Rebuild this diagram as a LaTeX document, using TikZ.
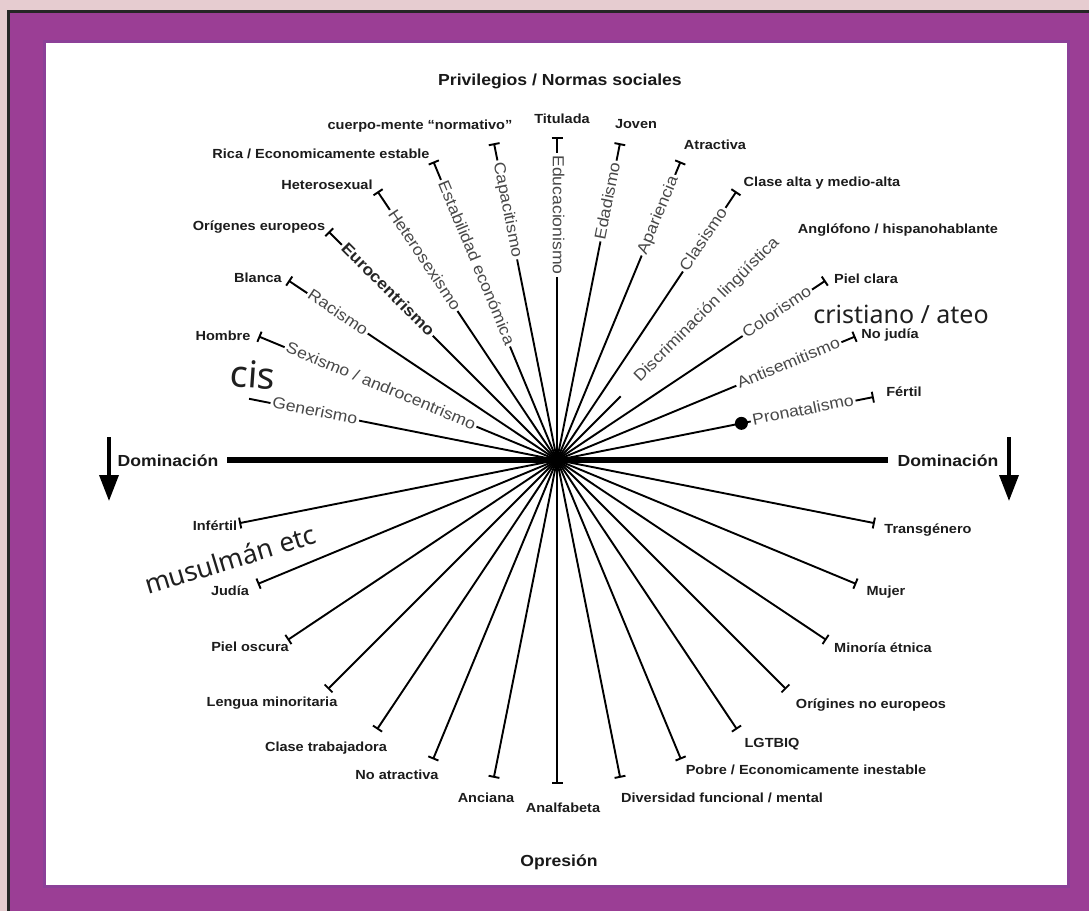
\documentclass[tikz,border=0pt]{standalone}
\usepackage{fontspec}
\setmainfont{Liberation Sans}
\newfontfamily\hv[FakeStretch=1.1]{Liberation Sans}
\newfontfamily\ns{Noto Sans}
\usetikzlibrary{arrows.meta,calc}
\definecolor{pinkbg}{RGB}{230,204,208}
\definecolor{purp}{RGB}{155,62,149}
\definecolor{purpedge}{RGB}{140,64,152}
\definecolor{raylabel}{RGB}{72,72,72}
\definecolor{endlabel}{RGB}{28,28,28}
\begin{document}
\begin{tikzpicture}[x=1pt,y=1pt,
  ray/.style={line width=1.9pt, black},
  tbar/.style={ray, -{Bar[width=11pt]}},
  rlab/.style={font=\hv\fontsize{16}{18}\selectfont, text=raylabel, fill=white,
    inner xsep=2pt, inner ysep=1.5pt, text height=8.5pt, text depth=0pt},
  elab/.style={font=\hv\bfseries\fontsize{13.2}{15}\selectfont, text=endlabel, inner sep=0pt, anchor=base},
  tlab/.style={font=\hv\bfseries\fontsize{16}{18}\selectfont, text=black!90, inner sep=0pt, anchor=base},
  hand/.style={font=\ns\fontsize{25}{28}\selectfont, text=black!88, inner sep=0pt, anchor=base},
  domarrow/.style={line width=3.5pt, -{Triangle[width=19pt,length=26pt]}},
]
\useasboundingbox (0,0) rectangle (1089,-911);
% frame
\fill[pinkbg] (0,0) rectangle (1089,-911);
\fill[black!85] (7,-10) rectangle (1089,-911);
\fill[purp] (10,-13) rectangle (1089,-911);
\fill[purpedge] (43,-40) rectangle (1070,-888);
\fill[white] (46,-43) rectangle (1067,-885);

\coordinate (C) at (557,-460);
\foreach \k in {1,...,15} {
  \coordinate (u\k) at ($(C)+({\k*11.25}:323)$);
  \coordinate (d\k) at ($(C)+({-\k*11.25}:324)$);
}
\coordinate (u15s) at ($(C)+(168.75:314)$);
\coordinate (u4s) at ($(C)+(45:90)$);

% rays
\foreach \k in {1,2,3,5,6,7,8,9,10,11,12,13,14} \draw[tbar] (C) -- (u\k);
\draw[ray] (C) -- (u15s);
\draw[ray] (C) -- (u4s);
\foreach \k in {1,...,15} \draw[tbar] (C) -- (d\k);

% horizontal axis
\coordinate (hl) at (227,-460);
\coordinate (hr) at (888,-460);
\draw[line width=5.5pt] (hl) -- (hr);
\fill (C) circle (4.5);

% pronatalismo dot
\node[circle, fill=black, inner sep=0pt, minimum size=13pt] (dotn) at ($(C)+(11.25:188)$) {};

% ray labels
\node[rlab, rotate=11.25] (l1) at ($(C)+(11.25:251)$) {Pronatalismo};
\node[rlab, rotate=22.5] (l2) at ($(C)+(22.5:251)$) {Antisemitismo};
\node[rlab, rotate=33.75] (l3) at ($(C)+(33.75:265)$) {Colorismo};
\node[rlab, rotate=45] (l4) at ($(C)+(45:212)$) {Discriminación lingüística};
\node[rlab, rotate=56.25] (l5) at ($(C)+(56.25:265)$) {Clasismo};
\node[rlab, rotate=67.5] (l6) at ($(C)+(67.5:265)$) {Apariencia};
\node[rlab, rotate=78.75] (l7) at ($(C)+(78.75:264)$) {Edadismo};
\node[rlab, rotate=-90] (l8) at ($(C)+(90:245)$) {Educacionismo};
\node[rlab, rotate=-78.75] (l9) at ($(C)+(101.25:255)$) {Capacitismo};
\node[rlab, rotate=-67.5] (l10) at ($(C)+(112.5:213)$) {Estabilidad económica};
\node[rlab, rotate=-56.25] (l11) at ($(C)+(123.75:240)$) {Heterosexismo};
\node[rlab, rotate=-45, font=\hv\bfseries\fontsize{16}{18}\selectfont, text=black!85] (l12) at ($(C)+(135:240)$) {Eurocentrismo};
\node[rlab, rotate=-33.75] (l13) at ($(C)+(146.25:264)$) {Racismo};
\node[rlab, rotate=-22.5] (l14) at ($(C)+(157.5:191)$) {Sexismo / androcentrismo};
\node[rlab, rotate=-11.25] (l15) at ($(C)+(168.75:247)$) {Generismo};

% end labels (privileges)
\node[elab] (t8) at (562,-123) {Titulada};
\node[elab] (t7) at (636,-128) {Joven};
\node[elab] (t6) at (715,-149) {Atractiva};
\node[elab] (t5) at (822,-186) {Clase alta y medio-alta};
\node[elab] (t4) at (898,-233) {Anglófono / hispanohablante};
\node[elab] (t3) at (866,-283) {Piel clara};
\node[elab] (t2) at (890,-338) {No judía};
\node[elab] (t1) at (904,-396) {Fértil};
\node[elab] (t9) at (420,-129) {cuerpo-mente “normativo”};
\node[elab] (t10) at (321,-158) {Rica / Economicamente estable};
\node[elab] (t11) at (327,-189) {Heterosexual};
\node[elab] (t12) at (259,-230) {Orígenes europeos};
\node[elab] (t13) at (258,-282) {Blanca};
\node[elab] (t14) at (223,-340) {Hombre};

% end labels (oppressions)
\node[elab] (b15) at (215,-530) {Infértil};
\node[elab] (b14) at (230,-595) {Judía};
\node[elab] (b13) at (250,-651) {Piel oscura};
\node[elab] (b12) at (272,-706) {Lengua minoritaria};
\node[elab] (b11) at (326,-751) {Clase trabajadora};
\node[elab] (b10) at (397,-779) {No atractiva};
\node[elab] (b9) at (486,-802) {Anciana};
\node[elab] (b8) at (563,-812) {Analfabeta};
\node[elab] (b7) at (722,-802) {Diversidad funcional / mental};
\node[elab] (b6) at (806,-774) {Pobre / Economicamente inestable};
\node[elab] (b5) at (772,-747) {LGTBIQ};
\node[elab] (b4) at (871,-708) {Orígines no europeos};
\node[elab] (b3) at (883,-652) {Minoría étnica};
\node[elab] (b2) at (886,-595) {Mujer};
\node[elab] (b1) at (928,-533) {Transgénero};

% titles
\node[tlab] (top) at (560,-85) {Privilegios / Normas sociales};
\node[tlab] (bottom) at (559,-866) {Opresión};
\node[tlab] (domL) at (168,-466) {Dominación};
\node[tlab] (domR) at (948,-466) {Dominación};

% domination arrows
\coordinate (aLt) at (109,-437);
\coordinate (aLb) at (109,-501);
\coordinate (aRt) at (1009,-437);
\coordinate (aRb) at (1009,-501);
\draw[domarrow] (aLt) -- (aLb);
\draw[domarrow] (aRt) -- (aRb);

% handwritten additions
\node[hand, font=\ns\fontsize{37}{40}\selectfont, rotate=-4] (cis) at (252,-388) {cis};
\node[hand] (crist) at (901,-323) {cristiano / ateo};
\node[hand, font=\ns\fontsize{26.5}{30}\selectfont, rotate=17] (musl) at (233,-569) {musulmán etc};
\end{tikzpicture}
\end{document}
